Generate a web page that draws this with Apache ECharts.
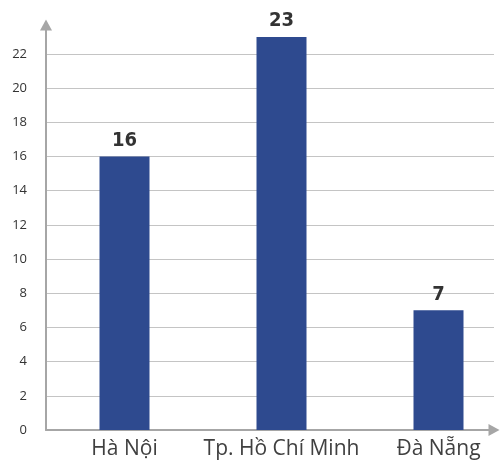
<!DOCTYPE html>
<html>
<head>
<meta charset="utf-8">
<script src="https://cdn.jsdelivr.net/npm/echarts@6/dist/echarts.min.js"></script>
<style>
  html, body { margin: 0; padding: 0; background: #fff; }
  #chart { width: 503px; height: 469px; }
</style>
</head>
<body>
<div id="chart"></div>
<script>
const cities = ['Hà Nội', 'Tp. Hồ Chí Minh', 'Đà Nẵng'];
const counts = [16, 23, 7];
const yMax = 23.7;

// 12 visible split lines (0..22) and a hidden one at the top end
const splitColors = [];
for (let i = 0; i < 12; i++) splitColors.push('#c4c4c4');
splitColors.push('rgba(0,0,0,0)');

const gridTop = 430 - yMax * 17.09;

let myChart = echarts.init(document.getElementById('chart'));
let option = {
    animation: false,
    grid: [
        { left: 46, right: 9, top: gridTop, bottom: 39, outerBoundsMode: 'none' },
        { left: 46, width: 471, top: gridTop, bottom: 39, outerBoundsMode: 'none' }
    ],
    xAxis: [
        {
            gridIndex: 0,
            type: 'value',
            min: 0,
            max: 1,
            axisLine: {
                show: true,
                symbol: ['none', 'triangle'],
                symbolSize: [12, 11],
                lineStyle: { color: '#a6a6a6', width: 2 }
            },
            axisTick: { show: false },
            axisLabel: { show: false },
            splitLine: { show: false }
        },
        {
            gridIndex: 1,
            type: 'category',
            data: cities,
            axisLine: { show: false },
            axisTick: { show: false },
            axisLabel: {
                interval: 0,
                margin: 9,
                fontFamily: 'Open Sans',
                fontSize: 21,
                color: '#404040'
            }
        }
    ],
    yAxis: [
        {
            gridIndex: 0,
            type: 'value',
            min: 0,
            max: yMax,
            interval: 2,
            axisLine: {
                show: true,
                symbol: ['none', 'triangle'],
                symbolSize: [12, 11],
                lineStyle: { color: '#a6a6a6', width: 2 }
            },
            axisTick: { show: false },
            axisLabel: {
                showMaxLabel: false,
                margin: 19,
                fontFamily: 'Open Sans',
                fontSize: 13,
                color: '#333'
            },
            splitLine: { lineStyle: { color: splitColors, width: 1 } }
        },
        {
            gridIndex: 1,
            type: 'value',
            min: 0,
            max: yMax,
            show: false,
            splitLine: { show: false }
        }
    ],
    series: [
        {
            type: 'bar',
            xAxisIndex: 1,
            yAxisIndex: 1,
            data: counts,
            barWidth: 50,
            itemStyle: { color: '#2e4a8f' },
            label: {
                show: true,
                position: 'top',
                distance: 6,
                fontFamily: '"DejaVu Sans Condensed", "Liberation Sans Narrow", Roboto',
                fontWeight: 'bold',
                fontSize: 20,
                color: '#333'
            }
        }
    ]
};
myChart.setOption(option, true);
</script>
</body>
</html>
